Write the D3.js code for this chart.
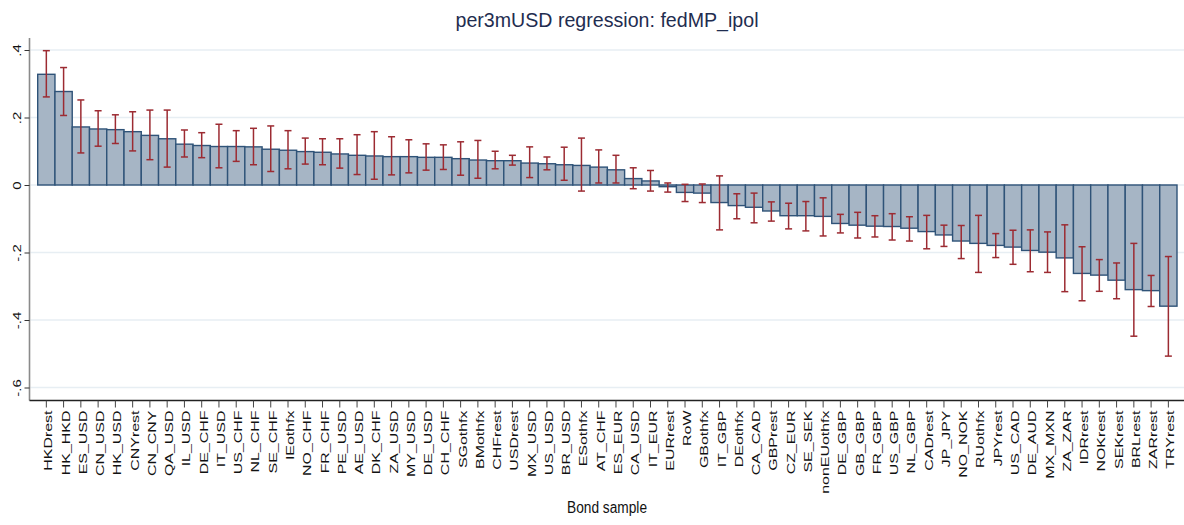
<!DOCTYPE html>
<html>
<head>
<meta charset="utf-8">
<script src="https://d3js.org/d3.v7.min.js"></script>
<style>
  html, body { margin: 0; padding: 0; background: #fff; }
  svg { display: block; font-family: "Liberation Sans", Arial, sans-serif; }
</style>
</head>
<body>
<svg id="chart" width="1184" height="525"></svg>
<script>
const categories = ["HKDrest","HK_HKD","ES_USD","CN_USD","HK_USD","CNYrest","CN_CNY","QA_USD","IL_USD","DE_CHF",
  "IT_USD","US_CHF","NL_CHF","SE_CHF","IEothfx","NO_CHF","FR_CHF","PE_USD","AE_USD","DK_CHF",
  "ZA_USD","MY_USD","DE_USD","CH_CHF","SGothfx","BMothfx","CHFrest","USDrest","MX_USD","US_USD",
  "BR_USD","ESothfx","AT_CHF","ES_EUR","CA_USD","IT_EUR","EURrest","RoW","GBothfx","IT_GBP",
  "DEothfx","CA_CAD","GBPrest","CZ_EUR","SE_SEK","nonEUothfx","DE_GBP","GB_GBP","FR_GBP","US_GBP",
  "NL_GBP","CADrest","JP_JPY","NO_NOK","RUothfx","JPYrest","US_CAD","DE_AUD","MX_MXN","ZA_ZAR",
  "IDRrest","NOKrest","SEKrest","BRLrest","ZARrest","TRYrest"];

const coef = [0.328,0.277,0.172,0.166,0.164,0.158,0.147,0.137,0.121,0.117,
  0.114,0.114,0.113,0.106,0.103,0.099,0.097,0.092,0.088,0.086,
  0.084,0.084,0.082,0.082,0.078,0.074,0.072,0.072,0.065,0.063,
  0.060,0.058,0.053,0.045,0.019,0.012,-0.005,-0.022,-0.024,-0.052,
  -0.061,-0.066,-0.077,-0.091,-0.091,-0.093,-0.114,-0.119,-0.122,-0.123,
  -0.128,-0.138,-0.148,-0.166,-0.173,-0.179,-0.184,-0.194,-0.199,-0.216,
  -0.262,-0.267,-0.282,-0.310,-0.313,-0.359];

const ciHigh = [0.398,0.348,0.252,0.220,0.208,0.217,0.222,0.222,0.163,0.155,
  0.180,0.161,0.168,0.175,0.161,0.139,0.137,0.137,0.149,0.158,
  0.143,0.134,0.122,0.119,0.128,0.132,0.100,0.088,0.113,0.083,
  0.112,0.139,0.104,0.088,0.051,0.043,0.006,0.002,0.003,0.027,
  -0.026,-0.024,-0.050,-0.054,-0.049,-0.038,-0.087,-0.081,-0.091,-0.085,
  -0.094,-0.090,-0.119,-0.120,-0.090,-0.144,-0.134,-0.133,-0.139,-0.118,
  -0.183,-0.221,-0.231,-0.173,-0.268,-0.212];

const ciLow = [0.261,0.206,0.095,0.115,0.123,0.101,0.075,0.053,0.083,0.081,
  0.051,0.070,0.060,0.040,0.048,0.062,0.060,0.050,0.031,0.017,
  0.030,0.036,0.044,0.046,0.029,0.020,0.048,0.059,0.022,0.045,
  0.014,-0.018,0.006,0.006,-0.011,-0.018,-0.021,-0.049,-0.052,-0.133,
  -0.100,-0.112,-0.107,-0.130,-0.136,-0.151,-0.142,-0.157,-0.154,-0.163,
  -0.166,-0.189,-0.182,-0.218,-0.259,-0.215,-0.235,-0.257,-0.259,-0.316,
  -0.343,-0.315,-0.337,-0.448,-0.360,-0.507];

const yTicks = [-0.6, -0.4, -0.2, 0, 0.2, 0.4];
const yTickLabels = ["-.6", "-.4", "-.2", "0", ".2", ".4"];

const titleText = "per3mUSD regression: fedMP_ipol";
const xTitle = "Bond sample";

const data = categories.map((c, i) => ({cat: c, v: coef[i], hi: ciHigh[i], lo: ciLow[i]}));

const svg = d3.select("#chart");
const W = 1184, H = 525;
const axisX = 29.5, axisY = 400.5, plotRight = 1184;

const x = d3.scaleBand().domain(categories).range([37.7, 1177]).paddingInner(0).paddingOuter(0);
const y = d3.scaleLinear().domain([-0.6, 0.4]).range([387.5, 50]);

// gridlines
svg.append("g").selectAll("line").data(yTicks).join("line")
  .attr("x1", axisX + 1).attr("x2", plotRight)
  .attr("y1", d => y(d)).attr("y2", d => y(d))
  .attr("stroke", "#e7eef3").attr("stroke-width", 1.6);

// bars
svg.append("g").selectAll("rect").data(data).join("rect")
  .attr("x", d => x(d.cat))
  .attr("width", x.bandwidth())
  .attr("y", d => Math.min(y(d.v), y(0)))
  .attr("height", d => Math.abs(y(d.v) - y(0)))
  .attr("fill", "#a6b5c5")
  .attr("stroke", "#2f5378")
  .attr("stroke-width", 1.4);

// error bars
const eb = svg.append("g").attr("stroke", "#9c2b32").attr("stroke-width", 1.5).attr("fill", "none");
const cx = d => x(d.cat) + x.bandwidth() / 2;
eb.selectAll("line.v").data(data).join("line").attr("class", "v")
  .attr("x1", cx).attr("x2", cx).attr("y1", d => y(d.hi)).attr("y2", d => y(d.lo));
eb.selectAll("line.ch").data(data).join("line").attr("class", "ch")
  .attr("x1", d => cx(d) - 3.5).attr("x2", d => cx(d) + 3.5).attr("y1", d => y(d.hi)).attr("y2", d => y(d.hi));
eb.selectAll("line.cl").data(data).join("line").attr("class", "cl")
  .attr("x1", d => cx(d) - 3.5).attr("x2", d => cx(d) + 3.5).attr("y1", d => y(d.lo)).attr("y2", d => y(d.lo));

// y axis
const yAxisG = svg.append("g").attr("transform", `translate(${axisX},0)`)
  .call(d3.axisLeft(y).tickValues(yTicks).tickSize(5).tickFormat((d, i) => yTickLabels[i]));
yAxisG.select(".domain").attr("d", `M0,38V${axisY}`).attr("stroke", "#8a8a8a").attr("stroke-width", 1.6);
yAxisG.selectAll(".tick line").attr("stroke", "#333").attr("stroke-width", 1);
yAxisG.selectAll(".tick text")
  .attr("x", null).attr("dy", null)
  .attr("text-anchor", "middle")
  .attr("font-size", 11.5).attr("fill", "#111")
  .attr("transform", "translate(-12.5,0) rotate(-90) scale(1.3,1) translate(0,4)");

// x axis
const xAxisG = svg.append("g").attr("transform", `translate(0,${axisY})`)
  .call(d3.axisBottom(x).tickSize(7).tickSizeOuter(0));
xAxisG.select(".domain").attr("d", `M${axisX},0H${plotRight}`).attr("stroke", "#222").attr("stroke-width", 1.4);
xAxisG.selectAll(".tick line").attr("stroke", "#444").attr("stroke-width", 1);
xAxisG.selectAll(".tick text")
  .attr("y", null).attr("dy", null)
  .attr("text-anchor", "end")
  .attr("font-size", 11).attr("fill", "#111")
  .attr("transform", "translate(6,10) rotate(-90) scale(1.45,1)");

// title
svg.append("text").attr("x", 607).attr("y", 27)
  .attr("text-anchor", "middle").attr("font-size", 21).attr("fill", "#1f2d50")
  .attr("textLength", 303).attr("lengthAdjust", "spacingAndGlyphs")
  .text(titleText);

// x title
svg.append("text").attr("x", 607).attr("y", 513)
  .attr("text-anchor", "middle").attr("font-size", 16).attr("fill", "#111")
  .attr("textLength", 80).attr("lengthAdjust", "spacingAndGlyphs")
  .text(xTitle);
</script>
</body>
</html>
